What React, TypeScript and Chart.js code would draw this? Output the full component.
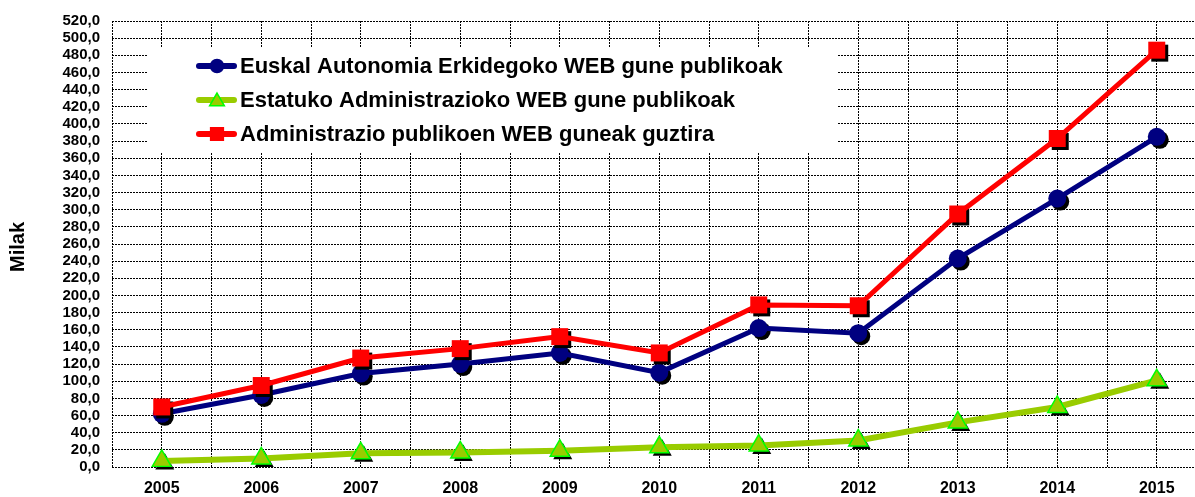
import React, { useEffect, useRef } from 'react';
import { Chart, registerables } from 'chart.js';

Chart.register(...registerables);

const years = ['2005', '2006', '2007', '2008', '2009', '2010', '2011', '2012', '2013', '2014', '2015'];
const euskalValues = [62, 84, 109, 120, 133, 110, 162, 156, 243, 313, 385];
const estatukoValues = [7, 10, 16, 17, 19, 23, 25, 31, 52, 70, 101];
const guztiraValues = [70, 95, 127, 138, 152, 133, 189, 188, 295, 383, 486];
const seriesLabels = [
  'Euskal Autonomia Erkidegoko WEB gune publikoak',
  'Estatuko Administrazioko WEB gune publikoak',
  'Administrazio publikoen WEB guneak guztira',
];
const yAxisTitle = 'Milak';
const yMax = 520;
const yStep = 20;

const FONT = '"Liberation Sans", Arial, Helvetica, sans-serif';

type Shape = 'circle' | 'rect' | 'triangle';

function shapePath(ctx: CanvasRenderingContext2D, shape: Shape, x: number, y: number, r: number) {
  ctx.beginPath();
  if (shape === 'circle') {
    ctx.arc(x, y, r, 0, Math.PI * 2);
  } else if (shape === 'rect') {
    const s = r * Math.SQRT1_2;
    ctx.rect(x - s, y - s, 2 * s, 2 * s);
  } else {
    const w = r * Math.sin(Math.PI / 3);
    ctx.moveTo(x, y - r);
    ctx.lineTo(x + w, y + r / 2);
    ctx.lineTo(x - w, y + r / 2);
    ctx.closePath();
  }
}

const shadowPlugin = {
  id: 'markerShadow',
  beforeDatasetDraw(chart: any, args: any) {
    const ds = chart.data.datasets[args.index];
    const ctx: CanvasRenderingContext2D = chart.ctx;
    ctx.save();
    ctx.fillStyle = '#000';
    args.meta.data.forEach((pt: any) => {
      shapePath(ctx, ds.pointStyle, pt.x + 3, pt.y + 3, ds.pointRadius);
      ctx.fill();
    });
    ctx.restore();
  },
};

const legendItems = [
  { label: seriesLabels[0], line: '#000080', fill: '#000080', stroke: '#000080', shape: 'circle' as Shape, r: 6.5 },
  { label: seriesLabels[1], line: '#99cc00', fill: '#99cc00', stroke: '#00ff00', shape: 'triangle' as Shape, r: 8.5 },
  { label: seriesLabels[2], line: '#ff0000', fill: '#ff0000', stroke: '#ff0000', shape: 'rect' as Shape, r: 9 },
];

const overlayPlugin = {
  id: 'overlay',
  beforeDatasetsDraw(chart: any) {
    const ctx: CanvasRenderingContext2D = chart.ctx;
    ctx.save();
    ctx.fillStyle = '#ffffff';
    ctx.fillRect(148, 48, 690, 104);
    const rows = [66, 100, 134];
    legendItems.forEach((it, i) => {
      const y = rows[i];
      ctx.strokeStyle = it.line;
      ctx.lineWidth = 6;
      ctx.lineCap = 'round';
      ctx.beginPath();
      ctx.moveTo(199, y);
      ctx.lineTo(234, y);
      ctx.stroke();
      shapePath(ctx, it.shape, 217, y + (it.shape === 'triangle' ? 1.5 : 0), it.r);
      ctx.fillStyle = it.fill;
      ctx.fill();
      ctx.lineWidth = 1.5;
      ctx.strokeStyle = it.stroke;
      ctx.stroke();
      ctx.fillStyle = '#000';
      ctx.font = `bold 22px ${FONT}`;
      ctx.textBaseline = 'middle';
      ctx.textAlign = 'left';
      ctx.fillText(it.label, 240, y + 1);
    });
    ctx.translate(18, 247);
    ctx.rotate(-Math.PI / 2);
    ctx.font = `bold 20px ${FONT}`;
    ctx.textAlign = 'center';
    ctx.textBaseline = 'middle';
    ctx.fillText(yAxisTitle, 0, 0);
    ctx.restore();
  },
};

export default function App() {
  const ref = useRef<HTMLCanvasElement>(null);
  useEffect(() => {
    if (!ref.current) return;
    const toXY = (vals: number[]) => vals.map((v, i) => ({ x: i, y: v }));
    const xMax = -0.5 + 1083 / 99.5;
    const chart = new Chart(ref.current, {
      type: 'line',
      data: {
        datasets: [
          {
            label: seriesLabels[2],
            data: toXY(guztiraValues),
            borderColor: '#ff0000',
            backgroundColor: '#ff0000',
            borderWidth: 5,
            pointStyle: 'rect',
            pointRadius: 12,
            pointBorderColor: '#ff0000',
            pointBackgroundColor: '#ff0000',
            pointBorderWidth: 0,
            order: 0,
          } as any,
          {
            label: seriesLabels[0],
            data: toXY(euskalValues),
            borderColor: '#000080',
            backgroundColor: '#000080',
            borderWidth: 5,
            pointStyle: 'circle',
            pointRadius: 9,
            pointBorderColor: '#000080',
            pointBackgroundColor: '#000080',
            pointBorderWidth: 0,
            order: 1,
          } as any,
          {
            label: seriesLabels[1],
            data: toXY(estatukoValues),
            borderColor: '#99cc00',
            backgroundColor: '#99cc00',
            borderWidth: 6,
            pointStyle: 'triangle',
            pointRadius: 11,
            pointBorderColor: '#00ff00',
            pointBackgroundColor: '#99cc00',
            pointBorderWidth: 1.5,
            order: 2,
          } as any,
        ],
      },
      options: {
        responsive: false,
        animation: false,
        layout: { autoPadding: false, padding: { top: 18, right: 0, bottom: 0, left: 0 } },
        plugins: { legend: { display: false }, tooltip: { enabled: false } },
        elements: { line: { tension: 0 } },
        scales: {
          x: {
            type: 'linear',
            min: -0.5,
            max: xMax,
            afterBuildTicks: (scale: any) => {
              const t = [];
              for (let v = -0.5; v <= 10.001; v += 0.5) t.push({ value: v });
              scale.ticks = t;
            },
            afterFit: (scale: any) => {
              scale.height = 30;
              scale.paddingLeft = 0;
              scale.paddingRight = 0;
            },
            grid: { color: '#000', lineWidth: 1, drawTicks: false },
            border: { display: false, dash: [2, 1] },
            ticks: {
              autoSkip: false,
              maxRotation: 0,
              padding: 12,
              color: '#000',
              font: { family: FONT, size: 16, weight: 'bold' },
              callback: (v: any) => (Number.isInteger(v) ? years[v] : ''),
            },
          },
          y: {
            min: 0,
            max: yMax,
            afterFit: (scale: any) => {
              scale.width = 112;
            },
            grid: { color: '#000', lineWidth: 1, drawTicks: false },
            border: { display: false, dash: [2, 1] },
            ticks: {
              stepSize: yStep,
              autoSkip: false,
              padding: 12,
              color: '#000',
              font: { family: FONT, size: 15, weight: 'bold' },
              callback: (v: any) => Number(v).toFixed(1).replace('.', ','),
            },
          },
        },
      } as any,
      plugins: [overlayPlugin, shadowPlugin],
    });
    return () => chart.destroy();
  }, []);
  return (
    <div style={{ position: 'fixed', left: 0, top: 0, width: 1195, height: 497, overflow: 'hidden', background: '#fff' }}>
      <canvas ref={ref} width={1195} height={497} style={{ display: 'block' }} />
    </div>
  );
}
